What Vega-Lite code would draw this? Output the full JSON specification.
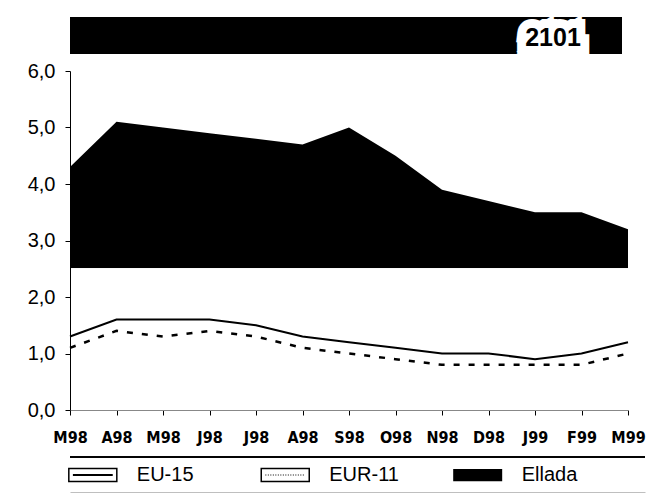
{
  "$schema": "https://vega.github.io/schema/vega-lite/v6.json",
  "background": "white",
  "padding": {"left": 27, "top": 17, "right": 10, "bottom": 0},
  "bounds": "flush",
  "spacing": 17,
  "config": {"view": {"stroke": null}, "font": "Liberation Sans"},
  "vconcat": [
    {
      "width": 552,
      "height": 37,
      "view": {"fill": "black", "stroke": null},
      "data": {"values": [{"badge": "2101"}]},
      "layer": [
        {
          "mark": {"type": "text", "dx": 207, "dy": 2, "align": "center", "baseline": "middle", "font": "Liberation Sans", "fontWeight": "bold", "fontSize": 25, "fill": "white", "stroke": "white", "strokeWidth": 18, "strokeJoin": "miter"},
          "encoding": {"text": {"field": "badge"}}
        },
        {
          "mark": {"type": "text", "dx": 207, "dy": 2, "align": "center", "baseline": "middle", "font": "Liberation Sans", "fontWeight": "bold", "fontSize": 25, "fill": "black"},
          "encoding": {"text": {"field": "badge"}}
        }
      ]
    },
    {
      "width": 558,
      "height": 339,
      "data": {
        "values": [
          {"month": "1998-03", "Ellada": 4.3, "EU15": 1.3, "EUR11": 1.1},
          {"month": "1998-04", "Ellada": 5.1, "EU15": 1.6, "EUR11": 1.4},
          {"month": "1998-05", "Ellada": 5.0, "EU15": 1.6, "EUR11": 1.3},
          {"month": "1998-06", "Ellada": 4.9, "EU15": 1.6, "EUR11": 1.4},
          {"month": "1998-07", "Ellada": 4.8, "EU15": 1.5, "EUR11": 1.3},
          {"month": "1998-08", "Ellada": 4.7, "EU15": 1.3, "EUR11": 1.1},
          {"month": "1998-09", "Ellada": 5.0, "EU15": 1.2, "EUR11": 1.0},
          {"month": "1998-10", "Ellada": 4.5, "EU15": 1.1, "EUR11": 0.9},
          {"month": "1998-11", "Ellada": 3.9, "EU15": 1.0, "EUR11": 0.8},
          {"month": "1998-12", "Ellada": 3.7, "EU15": 1.0, "EUR11": 0.8},
          {"month": "1999-01", "Ellada": 3.5, "EU15": 0.9, "EUR11": 0.8},
          {"month": "1999-02", "Ellada": 3.5, "EU15": 1.0, "EUR11": 0.8},
          {"month": "1999-03", "Ellada": 3.2, "EU15": 1.2, "EUR11": 1.0}
        ]
      },
      "layer": [
        {
          "mark": {"type": "area", "color": "black", "opacity": 1},
          "encoding": {
            "x": {
              "field": "month",
              "type": "ordinal",
              "sort": null,
              "scale": {"type": "point", "padding": 0},
              "axis": {
                "title": null,
                "labelAngle": 0,
                "labelExpr": "['J','F','M','A','M','J','J','A','S','O','N','D'][toNumber(substring(datum.value, 5, 7)) - 1] + substring(datum.value, 2, 4)",
                "labelFont": "Liberation Sans Narrow, DejaVu Sans Condensed, sans-serif",
                "labelFontWeight": "bold",
                "labelFontSize": 16,
                "labelColor": "black",
                "labelPadding": 14,
                "tickSize": 5,
                "tickColor": "black",
                "domainColor": "#888888",
                "grid": false
              }
            },
            "y": {
              "field": "Ellada",
              "type": "quantitative",
              "scale": {"domain": [0, 6], "nice": false},
              "axis": {
                "title": null,
                "values": [0, 0.5, 1, 1.5, 2, 2.5, 3, 3.5, 4, 4.5, 5, 5.5, 6],
                "labelExpr": "datum.value % 1 === 0 ? replace(format(datum.value, '.1f'), '.', ',') : ''",
                "labelFont": "Liberation Sans",
                "labelFontSize": 20,
                "labelColor": "black",
                "labelPadding": 10,
                "labelFlush": false,
                "labelOverlap": false,
                "tickSize": {"condition": {"test": "datum.value % 1 === 0", "value": 5}, "value": -5},
                "tickColor": "black",
                "domainColor": "black",
                "grid": false,
                "zindex": 1
              }
            }
          }
        },
        {
          "mark": {"type": "rect", "color": "white", "opacity": 1},
          "encoding": {
            "x": {"value": 0},
            "x2": {"value": "width"},
            "y": {"datum": 0, "type": "quantitative"},
            "y2": {"datum": 2.5}
          }
        },
        {
          "mark": {"type": "line", "color": "black", "strokeWidth": 2},
          "encoding": {
            "x": {"field": "month", "type": "ordinal", "sort": null},
            "y": {"field": "EU15", "type": "quantitative"}
          }
        },
        {
          "mark": {"type": "line", "color": "black", "strokeWidth": 2.5, "strokeDash": [6, 9]},
          "encoding": {
            "x": {"field": "month", "type": "ordinal", "sort": null},
            "y": {"field": "EUR11", "type": "quantitative"}
          }
        }
      ]
    },
    {
      "width": 575,
      "height": 66,
      "data": {"values": [{"series": "EU-15"}, {"series": "EUR-11"}, {"series": "Ellada"}]},
      "encoding": {
        "x": {"field": "series", "type": "nominal", "sort": null, "scale": {"type": "point", "padding": 0.494, "align": 0.12, "domain": ["EU-15", "EUR-11", "Ellada"]},
          "axis": {"orient": "bottom", "title": null, "labels": false, "ticks": false, "domainColor": "black", "domainWidth": 1.5, "grid": false}},
        "y": {"datum": 0.5, "type": "quantitative", "scale": {"domain": [0, 1], "range": [66, 30]}, "axis": null}
      },
      "layer": [
        {
          "transform": [{"filter": "datum.series !== 'Ellada'"}],
          "mark": {"type": "point", "shape": "M-1,-0.27H1V0.27H-1Z", "size": 2304, "filled": true, "fill": "white", "stroke": "black", "strokeWidth": 1.5, "opacity": 1}
        },
        {
          "transform": [{"filter": "datum.series === 'EU-15'"}],
          "mark": {"type": "point", "shape": "M-0.83,0H0.83", "size": 2304, "filled": false, "stroke": "black", "strokeWidth": 2, "opacity": 1}
        },
        {
          "transform": [{"filter": "datum.series === 'EUR-11'"}],
          "mark": {"type": "point", "shape": "M-0.83,0H0.83", "size": 2304, "filled": false, "stroke": "black", "strokeWidth": 1, "strokeDash": [1, 1.5], "opacity": 1}
        },
        {
          "transform": [{"filter": "datum.series === 'Ellada'"}],
          "mark": {"type": "point", "shape": "M-1,-0.25H1V0.25H-1Z", "size": 2401, "filled": true, "color": "black", "opacity": 1}
        },
        {
          "mark": {"type": "text", "align": "left", "baseline": "middle", "dx": 44, "fontSize": 20, "font": "Liberation Sans", "color": "black"},
          "encoding": {"text": {"field": "series"}}
        },
        {
          "mark": {"type": "rule", "color": "black", "strokeWidth": 1.5},
          "encoding": {"y": {"datum": 1, "type": "quantitative"}, "x": {"value": 0}, "x2": {"value": 575}}
        }
      ]
    }
  ]
}
